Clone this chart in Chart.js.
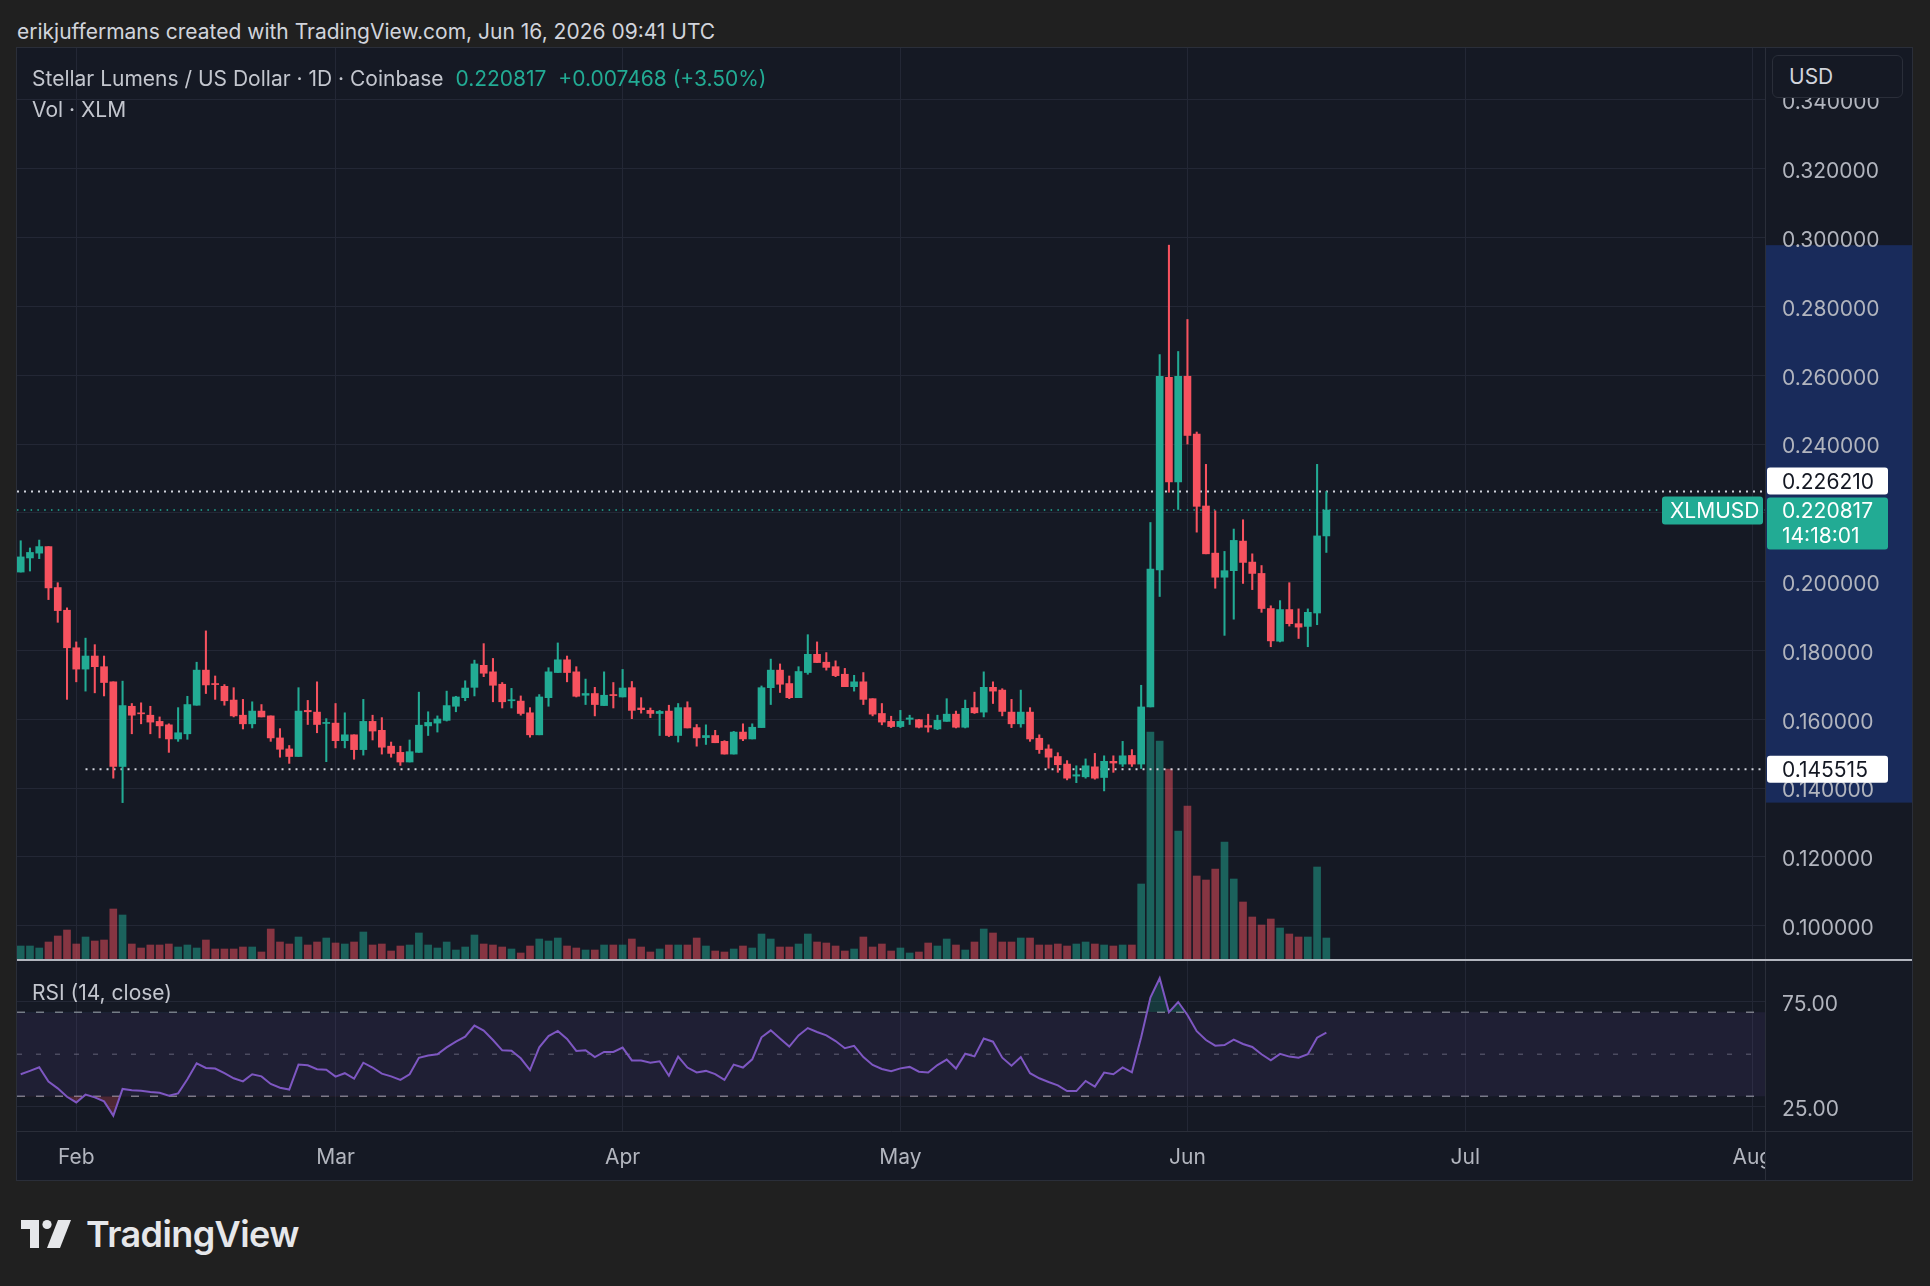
<!DOCTYPE html>
<html>
<head>
<meta charset="utf-8">
<title>XLMUSD 1D</title>
<script src="https://cdn.jsdelivr.net/npm/chart.js@4.4.1/dist/chart.umd.min.js"></script>
<style>
  html, body { margin: 0; padding: 0; }
  body { width: 1930px; height: 1286px; background: #202020; position: relative; overflow: hidden; font-family: Inter, "Noto Sans", sans-serif; }
  #caption { position: absolute; left: 17px; top: 19px; font-size: 21px; line-height: 26px; color: #d1d4dc; }
  #frame { position: absolute; left: 17px; top: 48px; width: 1895px; height: 1132px; background: #151924; outline: 1px solid #2a2e39; }
  #price-chart { position: absolute; left: 0; top: 0; }
  #pane-sep { position: absolute; left: 0; top: 911px; width: 1895px; height: 2px; background: #b2b5be; }
  #rsi-chart { position: absolute; left: 0; top: 913px; }
  .legend { position: absolute; left: 15px; font-size: 21px; line-height: 26px; color: #c3c6ce; white-space: pre; }
  .up { color: #22ab94; }
  #usd { position: absolute; left: 1755px; top: 7px; width: 131px; height: 43px; border: 1px solid #2a2e39; border-radius: 6px; background: #151924; color: #d1d4dc; font-size: 21px; line-height: 41px; padding-left: 16px; box-sizing: border-box; }
  #corner { position: absolute; left: 1748px; top: 1083px; width: 147px; height: 49px; background: #151924; border-left: 1px solid #2a2e39; border-top: 1px solid #2a2e39; box-sizing: border-box; }
  #logo { position: absolute; left: 21px; top: 1215px; height: 38px; display: flex; align-items: center; color: #e6e7ea; }
  #logo span { font-size: 36px; font-weight: 600; letter-spacing: -0.6px; margin-left: 13px; }
</style>
</head>
<body>
<div id="caption">erikjuffermans created with TradingView.com, Jun 16, 2026 09:41 UTC</div>
<div id="frame">
  <canvas id="price-chart" width="1895" height="911"></canvas>
  <div id="pane-sep"></div>
  <canvas id="rsi-chart" width="1895" height="219"></canvas>
  <div class="legend" style="top:18px">Stellar Lumens / US Dollar · 1D · Coinbase  <span class="up">0.220817  +0.007468 (+3.50%)</span></div>
  <div class="legend" style="top:49px">Vol · XLM</div>
  <div class="legend" style="top:932px">RSI (14, close)</div>
  <div id="usd">USD</div>
  <div id="corner"></div>
</div>
<div id="logo">
  <svg width="52" height="30" viewBox="0 0 52 30">
    <path d="M0 1 H18 V29 H9 V10 H0 Z" fill="#e6e7ea"/>
    <circle cx="26" cy="5.5" r="4.6" fill="#e6e7ea"/>
    <path d="M37 1 H50 L39 29 H26 Z" fill="#e6e7ea"/>
  </svg>
  <span>TradingView</span>
</div>
<script>
const UP = '#22ab94';
const DOWN = '#f7525f';
const UP_VOL = 'rgba(34, 171, 148, 0.5)';
const DOWN_VOL = 'rgba(247, 82, 95, 0.5)';
const GRID = '#232735';
const AXIS_TEXT = '#b2b5be';
const FONT = 'Inter, "Noto Sans", sans-serif';

// daily candles, index 0 = 2026-01-26
const opens = [
  0.2028, 0.2069, 0.2083, 0.2102, 0.1983, 0.1917, 0.1808, 0.1746, 0.1784, 0.1753,
  0.1709, 0.1463, 0.1638, 0.1618, 0.1612, 0.1594, 0.1584, 0.1543, 0.1558, 0.1641,
  0.1743, 0.1704, 0.1696, 0.1656, 0.1612, 0.1587, 0.1624, 0.1610, 0.1546, 0.1514,
  0.1492, 0.1626, 0.1621, 0.1588, 0.1589, 0.1538, 0.1555, 0.1512, 0.1594, 0.1568,
  0.1522, 0.1504, 0.1476, 0.1504, 0.1581, 0.1589, 0.1597, 0.1638, 0.1663, 0.1693,
  0.1757, 0.1738, 0.1702, 0.1654, 0.1653, 0.1619, 0.1555, 0.1663, 0.1736, 0.1773,
  0.1738, 0.1670, 0.1675, 0.1640, 0.1672, 0.1665, 0.1692, 0.1633, 0.1626, 0.1617,
  0.1624, 0.1553, 0.1634, 0.1576, 0.1547, 0.1553, 0.1536, 0.1499, 0.1563, 0.1543,
  0.1576, 0.1692, 0.1743, 0.1704, 0.1663, 0.1736, 0.1789, 0.1766, 0.1753, 0.1731,
  0.1695, 0.1709, 0.1660, 0.1617, 0.1594, 0.1579, 0.1600, 0.1599, 0.1582, 0.1572,
  0.1594, 0.1615, 0.1577, 0.1634, 0.1621, 0.1693, 0.1685, 0.1621, 0.1587, 0.1621,
  0.1545, 0.1514, 0.1492, 0.1470, 0.1435, 0.1433, 0.1462, 0.1431, 0.1478, 0.1470,
  0.1495, 0.1470, 0.1636, 0.2034, 0.2594, 0.2290, 0.2597, 0.2429, 0.2220, 0.2083,
  0.2013, 0.2032, 0.2118, 0.2057, 0.2024, 0.1922, 0.1827, 0.1919, 0.1878, 0.1870,
  0.1909, 0.2133
];
const highs = [
  0.2119, 0.2098, 0.2121, 0.2102, 0.1997, 0.1924, 0.1825, 0.1836, 0.1817, 0.1784,
  0.1709, 0.1711, 0.1646, 0.1648, 0.1638, 0.1607, 0.1587, 0.1634, 0.1667, 0.1766,
  0.1857, 0.1726, 0.1701, 0.1692, 0.1658, 0.1651, 0.1643, 0.1610, 0.1573, 0.1524,
  0.1692, 0.1655, 0.1709, 0.1602, 0.1646, 0.1619, 0.1555, 0.1658, 0.1612, 0.1605,
  0.1534, 0.1522, 0.1540, 0.1679, 0.1622, 0.1610, 0.1682, 0.1667, 0.1712, 0.1772,
  0.1820, 0.1777, 0.1707, 0.1690, 0.1668, 0.1634, 0.1672, 0.1750, 0.1822, 0.1784,
  0.1753, 0.1717, 0.1693, 0.1738, 0.1707, 0.1745, 0.1710, 0.1663, 0.1633, 0.1626,
  0.1641, 0.1646, 0.1651, 0.1585, 0.1584, 0.1568, 0.1538, 0.1565, 0.1587, 0.1587,
  0.1697, 0.1775, 0.1761, 0.1726, 0.1753, 0.1846, 0.1825, 0.1794, 0.1770, 0.1748,
  0.1728, 0.1736, 0.1660, 0.1646, 0.1609, 0.1626, 0.1612, 0.1600, 0.1615, 0.1612,
  0.1660, 0.1624, 0.1656, 0.1679, 0.1738, 0.1709, 0.1689, 0.1658, 0.1685, 0.1634,
  0.1555, 0.1526, 0.1503, 0.1480, 0.1465, 0.1485, 0.1501, 0.1494, 0.1494, 0.1536,
  0.1512, 0.1699, 0.2172, 0.2660, 0.2978, 0.2669, 0.2762, 0.2435, 0.2341, 0.2206,
  0.2088, 0.2153, 0.2180, 0.2081, 0.2047, 0.1930, 0.1945, 0.1997, 0.1921, 0.1921,
  0.2341, 0.226210
];
const lows = [
  0.2028, 0.2031, 0.2067, 0.1948, 0.1882, 0.1658, 0.1709, 0.1682, 0.1677, 0.1668,
  0.1429, 0.1358, 0.1558, 0.1587, 0.1558, 0.1546, 0.1504, 0.1536, 0.1542, 0.1641,
  0.1675, 0.1658, 0.1641, 0.1607, 0.1572, 0.1575, 0.1607, 0.1536, 0.1490, 0.1472,
  0.1492, 0.1585, 0.1561, 0.1477, 0.1517, 0.1517, 0.1484, 0.1496, 0.1540, 0.1499,
  0.1490, 0.1466, 0.1476, 0.1504, 0.1553, 0.1563, 0.1595, 0.1622, 0.1654, 0.1668,
  0.1724, 0.1651, 0.1633, 0.1633, 0.1612, 0.1548, 0.1555, 0.1638, 0.1736, 0.1709,
  0.1665, 0.1643, 0.1610, 0.1640, 0.1633, 0.1665, 0.1602, 0.1618, 0.1605, 0.1553,
  0.1550, 0.1534, 0.1575, 0.1522, 0.1527, 0.1532, 0.1499, 0.1499, 0.1538, 0.1543,
  0.1576, 0.1643, 0.1678, 0.1660, 0.1663, 0.1731, 0.1765, 0.1743, 0.1724, 0.1695,
  0.1682, 0.1643, 0.1610, 0.1584, 0.1576, 0.1576, 0.1585, 0.1575, 0.1563, 0.1570,
  0.1594, 0.1575, 0.1575, 0.1617, 0.1607, 0.1646, 0.1610, 0.1576, 0.1577, 0.1536,
  0.1501, 0.1458, 0.1446, 0.1424, 0.1416, 0.1429, 0.1426, 0.1392, 0.1446, 0.1463,
  0.1463, 0.1457, 0.1636, 0.1957, 0.2260, 0.2210, 0.2400, 0.2144, 0.2081, 0.1981,
  0.1844, 0.1891, 0.1995, 0.1977, 0.1911, 0.1811, 0.1825, 0.1871, 0.1835, 0.1811,
  0.1875, 0.2085
];
const closes = [
  0.2072, 0.2085, 0.2102, 0.1982, 0.1916, 0.1808, 0.1746, 0.1784, 0.1753, 0.1707,
  0.1463, 0.1640, 0.1612, 0.1616, 0.1592, 0.1581, 0.1543, 0.1561, 0.1643, 0.1743,
  0.1700, 0.1701, 0.1654, 0.1610, 0.1587, 0.1624, 0.1607, 0.1546, 0.1513, 0.1492,
  0.1624, 0.1622, 0.1585, 0.1591, 0.1538, 0.1555, 0.1512, 0.1594, 0.1566, 0.1519,
  0.1501, 0.1476, 0.1506, 0.1583, 0.1591, 0.1601, 0.1640, 0.1665, 0.1691, 0.1761,
  0.1734, 0.1699, 0.1651, 0.1657, 0.1617, 0.1555, 0.1665, 0.1738, 0.1773, 0.1736,
  0.1667, 0.1675, 0.1643, 0.1670, 0.1669, 0.1691, 0.1626, 0.1628, 0.1617, 0.1623,
  0.1553, 0.1634, 0.1575, 0.1546, 0.1553, 0.1532, 0.1499, 0.1563, 0.1543, 0.1577,
  0.1692, 0.1743, 0.1702, 0.1663, 0.1739, 0.1789, 0.1765, 0.1751, 0.1727, 0.1695,
  0.1709, 0.1658, 0.1615, 0.1592, 0.1579, 0.1594, 0.1604, 0.1577, 0.1577, 0.1597,
  0.1615, 0.1577, 0.1632, 0.1619, 0.1693, 0.1682, 0.1623, 0.1587, 0.1621, 0.1543,
  0.1512, 0.1490, 0.1468, 0.1429, 0.1439, 0.1465, 0.1429, 0.1478, 0.1473, 0.1494,
  0.1470, 0.1636, 0.2037, 0.2597, 0.2290, 0.2597, 0.2425, 0.2219, 0.2081, 0.2013,
  0.2032, 0.2120, 0.2056, 0.2024, 0.1922, 0.1828, 0.1919, 0.1878, 0.1868, 0.1911,
  0.2133, 0.220817
];
// volume, millions of XLM
const volumes = [
  13, 13, 11, 17, 23, 29, 15, 22, 18, 19, 50, 44, 15, 11, 14, 14, 15, 12, 14, 11,
  19, 10, 10, 10, 12, 12, 7, 30, 17, 15, 22, 14, 17, 21, 16, 15, 17, 27, 14, 15,
  8, 13, 14, 26, 14, 11, 17, 9, 12, 24, 15, 14, 12, 10, 6, 13, 20, 18, 21, 13,
  11, 9, 9, 14, 14, 14, 20, 12, 7, 10, 14, 14, 14, 21, 13, 8, 7, 10, 13, 11,
  25, 20, 12, 12, 15, 25, 17, 16, 13, 8, 10, 22, 12, 15, 8, 11, 6, 7, 16, 13,
  20, 14, 9, 17, 30, 26, 17, 17, 21, 21, 14, 14, 15, 13, 15, 17, 15, 14, 13, 14,
  14, 75, 227, 218, 190, 128, 153, 83, 79, 90, 117, 80, 57, 42, 34, 40, 31, 25, 22, 22,
  92, 21
];
const rsiValues = [
  40.5, 42.1, 43.8, 37.0, 33.8, 29.8, 27.1, 30.8, 29.5, 27.6,
  20.8, 33.5, 32.9, 32.7, 32.1, 31.7, 30.3, 31.4, 38.1, 45.7,
  43.5, 43.2, 41.0, 38.6, 37.1, 40.5, 39.5, 35.9, 34.1, 33.2,
  45.1, 44.8, 42.9, 42.7, 39.4, 41.0, 38.4, 46.0, 43.7, 40.8,
  39.5, 37.8, 40.5, 48.3, 49.4, 50.0, 53.3, 56.0, 58.4, 63.7,
  61.3, 56.8, 51.9, 51.7, 48.1, 42.5, 53.3, 58.7, 61.1, 57.3,
  51.6, 51.9, 48.7, 51.1, 51.1, 53.2, 47.1, 47.0, 46.0, 46.7,
  39.8, 48.9, 43.7, 41.4, 42.1, 40.6, 37.8, 45.1, 43.7, 47.6,
  58.1, 61.4, 57.5, 53.7, 59.0, 62.5, 60.6, 59.0, 56.3, 52.9,
  54.0, 48.7, 44.9, 43.0, 41.9, 43.3, 44.0, 41.7, 41.3, 44.9,
  47.5, 43.2, 50.3, 49.0, 57.5, 56.0, 48.4, 44.6, 48.7, 41.0,
  38.6, 36.8, 35.2, 32.5, 32.5, 37.3, 34.6, 41.3, 40.5, 43.8,
  41.4, 58.1, 77.0, 86.2, 70.0, 74.9, 68.7, 61.0, 56.8, 54.1,
  54.4, 57.0, 54.9, 53.5, 50.0, 47.1, 50.2, 48.9, 48.4, 50.0,
  57.9, 60.3
];

const monthTicks = [6, 34, 65, 95, 126, 156, 187];
const monthLabels = ['Feb', 'Mar', 'Apr', 'May', 'Jun', 'Jul', 'Aug'];
const priceTicks = [0.10, 0.12, 0.14, 0.16, 0.18, 0.20, 0.22, 0.24, 0.26, 0.28, 0.30, 0.32, 0.34];
const rsiTicks = [25, 75];
const lowLevel = 0.145515;
const lowLevelFrom = 7;
const countdown = '14:18:01';

// view window (day index) and axis ranges
const xMin = -0.4, xMax = 188.37;
const priceMin = 0.09035, priceMax = 0.3551;
const volAxisMax = 911;
const rsiMin = 13.5, rsiMax = 94.4;
const AXIS_W = 147;
const FONT_SIZE = 21;

const last = closes.length - 1;
const lastClose = closes[last];
const lastHigh = highs[last];
const candleColor = closes.map((c, i) => c >= opens[i] ? UP : DOWN);
const volColor = closes.map((c, i) => c >= opens[i] ? UP_VOL : DOWN_VOL);

function hLine(value, from, color, width, dash) {
    return {
        type: 'line',
        data: [{x: from, y: value}, {x: xMax, y: value}],
        borderColor: color,
        borderWidth: width,
        borderDash: dash,
        pointRadius: 0,
        yAxisID: 'y',
        order: 2
    };
}

// price axis decorations: range band, price labels
const axisLabels = {
    id: 'axisLabels',
    beforeDraw(chart) {
        const {ctx, scales: {y}} = chart;
        const top = y.getPixelForValue(Math.max(...highs));
        const bottom = y.getPixelForValue(Math.min(...lows));
        ctx.save();
        ctx.fillStyle = 'rgba(41, 98, 255, 0.25)';
        ctx.fillRect(y.left + 1, top, y.width - 1, bottom - top);
        ctx.restore();
    },
    afterDraw(chart) {
        const {ctx, chartArea, scales: {y}} = chart;
        const bx = y.left + 2, bw = 121, tx = y.left + 17;
        ctx.save();
        ctx.font = FONT_SIZE + 'px ' + FONT;
        ctx.textBaseline = 'middle';

        const ly = y.getPixelForValue(lastClose);
        ctx.fillStyle = UP;
        ctx.beginPath(); ctx.roundRect(bx, ly - 12.6, bw, 52, 3); ctx.fill();
        ctx.beginPath(); ctx.roundRect(chartArea.right - 103, ly - 13.6, 101, 28, 3); ctx.fill();
        ctx.fillStyle = '#ffffff';
        ctx.fillText(lastClose.toFixed(6), tx, ly + 2);
        ctx.fillText(countdown, tx, ly + 27);
        ctx.fillText('XLMUSD', chartArea.right - 95, ly + 2);

        const hy = y.getPixelForValue(lastHigh);
        const hb = Math.min(hy + 13.5, ly - 15.6);
        ctx.fillStyle = '#ffffff';
        ctx.beginPath(); ctx.roundRect(bx, hb - 27, bw, 27, 3); ctx.fill();
        ctx.fillStyle = '#131722';
        ctx.fillText(lastHigh.toFixed(6), tx, hb - 11.5);

        const wy = y.getPixelForValue(lowLevel);
        ctx.fillStyle = '#ffffff';
        ctx.beginPath(); ctx.roundRect(bx, wy - 13.5, bw, 27, 3); ctx.fill();
        ctx.fillStyle = '#131722';
        ctx.fillText(lowLevel.toFixed(6), tx, wy + 2);
        ctx.restore();
    }
};

const xScale = (showLabels) => ({
    type: 'linear',
    min: xMin,
    max: xMax,
    offset: false,
    afterBuildTicks: s => { s.ticks = monthTicks.map(v => ({value: v})); },
    afterFit: s => {
        s.height = showLabels ? 49 : 0;
        s.paddingLeft = 0;
        s.paddingRight = 0;
    },
    ticks: {
        display: showLabels,
        color: AXIS_TEXT,
        font: {family: FONT, size: FONT_SIZE},
        padding: 14,
        maxRotation: 0,
        autoSkip: false,
        callback: v => monthLabels[monthTicks.indexOf(v)]
    },
    grid: {color: GRID, drawTicks: false, offset: false},
    border: {display: showLabels, color: '#2a2e39'}
});

const yScale = (min, max, tickValues, digits) => ({
    position: 'right',
    min: min,
    max: max,
    afterBuildTicks: s => { s.ticks = tickValues.map(v => ({value: v})); },
    afterFit: s => {
        s.width = AXIS_W;
        s.paddingTop = 0;
        s.paddingBottom = 0;
    },
    ticks: {
        color: AXIS_TEXT,
        font: {family: FONT, size: FONT_SIZE},
        padding: 17,
        labelOffset: 3,
        callback: v => v.toFixed(digits)
    },
    grid: {color: GRID, drawTicks: false},
    border: {color: '#2a2e39'}
});

const indices = opens.map((_, i) => i);

new Chart(document.getElementById('price-chart'), {
    type: 'bar',
    data: {
        datasets: [
            {
                data: indices.map(i => ({x: i, y: [opens[i], closes[i]]})),
                backgroundColor: candleColor,
                barThickness: 7,
                minBarLength: 1,
                grouped: false,
                yAxisID: 'y',
                order: 0
            },
            {
                data: indices.map(i => ({x: i, y: [lows[i], highs[i]]})),
                backgroundColor: candleColor,
                barThickness: 1.4,
                grouped: false,
                yAxisID: 'y',
                order: 1
            },
            hLine(lastHigh, xMin, '#d1d4dc', 2, [2, 5]),
            hLine(lastClose, xMin, UP, 1.5, [1.5, 5.3]),
            hLine(lowLevel, lowLevelFrom, '#d1d4dc', 2, [2, 5]),
            {
                data: indices.map(i => ({x: i, y: volumes[i]})),
                backgroundColor: volColor,
                barThickness: 7,
                grouped: false,
                yAxisID: 'yv',
                order: 5
            }
        ]
    },
    options: {
        responsive: false,
        animation: false,
        devicePixelRatio: 1,
        events: [],
        layout: {padding: 0},
        plugins: {legend: {display: false}, tooltip: {enabled: false}},
        scales: {
            x: xScale(false),
            y: yScale(priceMin, priceMax, priceTicks, 6),
            yv: {
                display: false,
                min: 0,
                max: volAxisMax
            }
        }
    },
    plugins: [axisLabels]
});

const rsiPoints = rsiValues.map((v, i) => ({x: i, y: v}));
const level = (value, dash, color, fill) => ({
    data: [{x: xMin, y: value}, {x: xMax, y: value}],
    borderColor: color,
    borderWidth: 1.5,
    borderDash: dash,
    pointRadius: 0,
    fill: fill,
    backgroundColor: 'rgba(126, 87, 194, 0.1)'
});

new Chart(document.getElementById('rsi-chart'), {
    type: 'line',
    data: {
        datasets: [
            {
                data: rsiPoints,
                borderColor: '#7e57c2',
                borderWidth: 2,
                pointRadius: 0,
                tension: 0
            },
            {
                data: rsiPoints,
                borderWidth: 0,
                pointRadius: 0,
                fill: {target: {value: 70}, above: 'rgba(34, 171, 148, 0.22)', below: 'transparent'}
            },
            {
                data: rsiPoints,
                borderWidth: 0,
                pointRadius: 0,
                fill: {target: {value: 30}, above: 'transparent', below: 'rgba(247, 82, 95, 0.25)'}
            },
            level(70, [8, 11], '#787b86', '+1'),
            level(30, [8, 11], '#787b86', false),
            level(50, [5, 14], 'rgba(120, 123, 134, 0.5)', false)
        ]
    },
    options: {
        responsive: false,
        animation: false,
        devicePixelRatio: 1,
        events: [],
        layout: {padding: 0},
        plugins: {legend: {display: false}, tooltip: {enabled: false}},
        scales: {
            x: xScale(true),
            y: yScale(rsiMin, rsiMax, rsiTicks, 2)
        }
    }
});
</script>
</body>
</html>
